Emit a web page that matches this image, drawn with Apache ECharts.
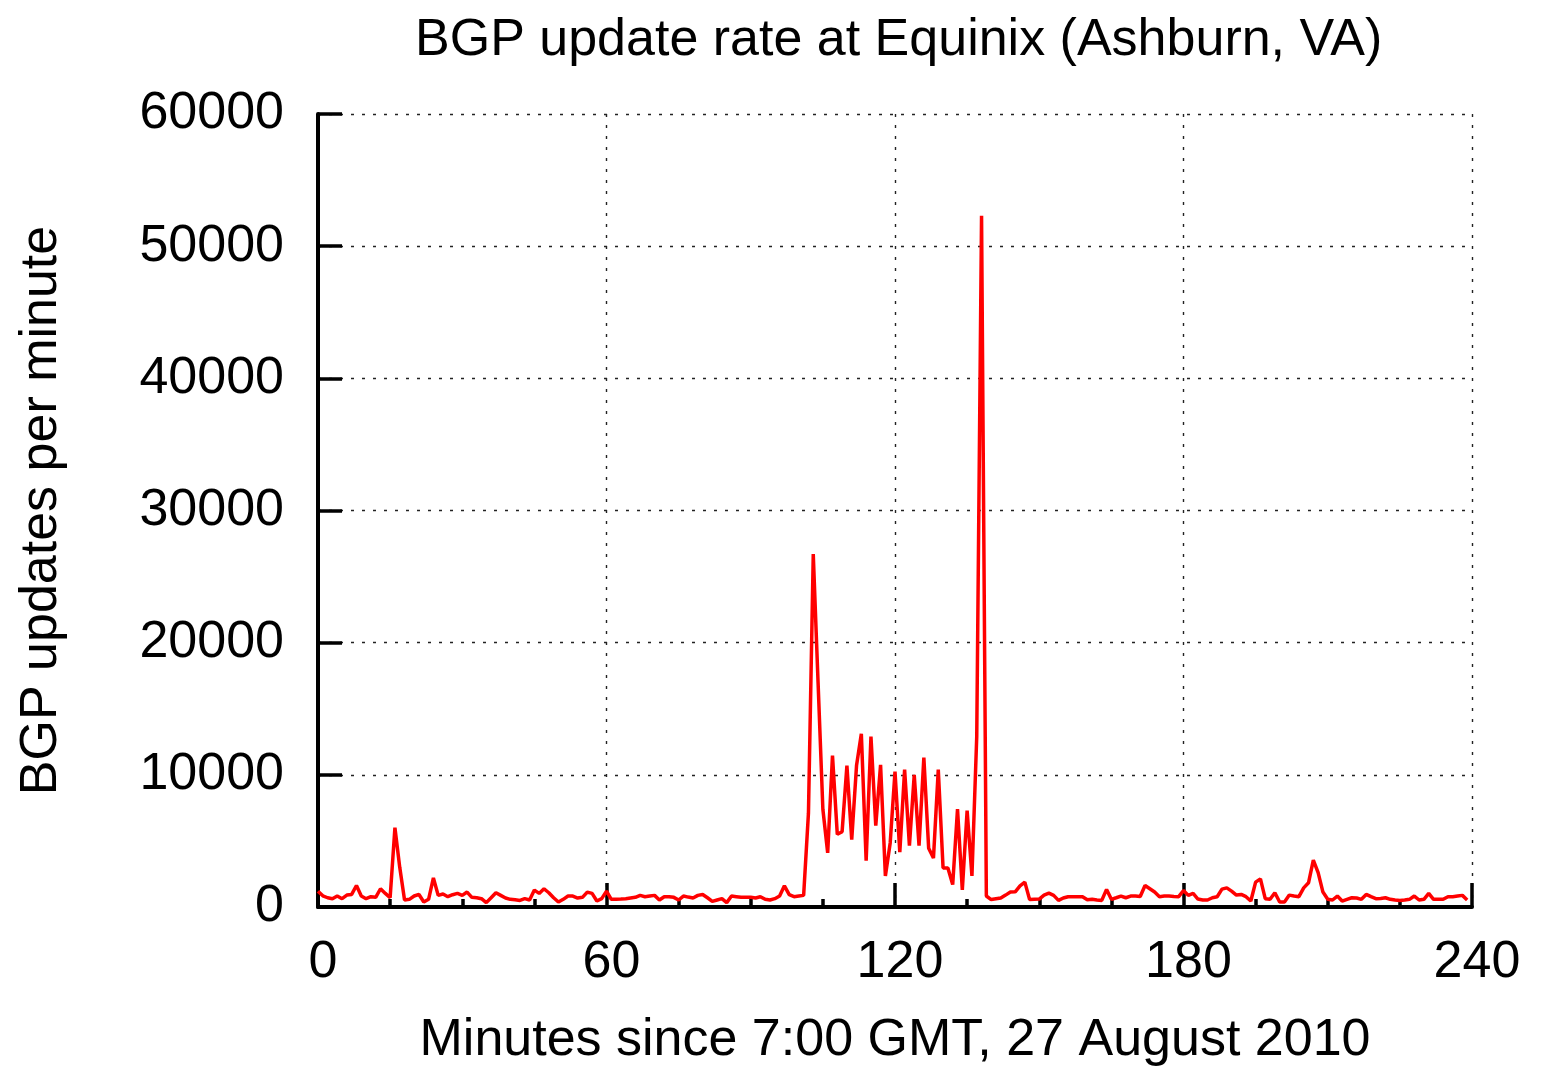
<!DOCTYPE html>
<html>
<head>
<meta charset="utf-8">
<title>BGP update rate</title>
<script src="https://cdn.jsdelivr.net/npm/echarts@6/dist/echarts.min.js"></script>
<style>
html, body { margin: 0; padding: 0; background: #fff; }
#chart { width: 1545px; height: 1072px; }
</style>
</head>
<body>
<div id="chart"></div>
<script>
// BGP updates per minute, one value per minute from 7:00 GMT
var updates = [
    1200, 850, 700, 630, 830, 630, 900, 950, 1630, 830,
    630, 780, 730, 1380, 1030, 700, 6000, 3000, 530, 580,
    830, 950, 380, 580, 2200, 880, 980, 780, 930, 1030,
    880, 1130, 730, 700, 630, 330, 700, 1080, 880, 680,
    580, 550, 500, 630, 530, 1280, 1030, 1380, 1080, 700,
    380, 580, 830, 830, 680, 730, 1130, 1030, 450, 630,
    1200, 580, 580, 600, 630, 680, 730, 880, 780, 830,
    880, 530, 780, 780, 730, 530, 830, 750, 680, 880,
    950, 700, 430, 530, 630, 330, 830, 780, 730, 730,
    730, 680, 780, 580, 530, 630, 830, 1600, 930, 780,
    830, 880, 7100, 26700, 17000, 7400, 4100, 11450, 5500, 5700,
    10700, 5100, 10700, 13100, 3500, 12900, 6150, 10750, 2350, 4850,
    10250, 4150, 10400, 4650, 10000, 4650, 11300, 4450, 3700, 10400,
    2950, 2950, 1700, 7400, 1300, 7300, 2350, 12900, 52300, 830,
    560, 620, 680, 900, 1130, 1150, 1600, 1880, 560, 580,
    600, 900, 1050, 880, 500, 680, 780, 780, 780, 780,
    550, 580, 530, 500, 1330, 580, 700, 830, 700, 830,
    830, 800, 1630, 1380, 1130, 780, 830, 830, 800, 780,
    1250, 880, 1030, 600, 530, 530, 700, 780, 1350, 1450,
    1200, 900, 950, 780, 450, 1880, 2130, 630, 580, 1080,
    380, 380, 900, 830, 780, 1450, 1830, 3550, 2600, 1130,
    580, 530, 830, 450, 580, 700, 680, 580, 950, 780,
    630, 650, 700, 580, 530, 500, 530, 580, 830, 530,
    580, 1030, 580, 580, 580, 780, 780, 830, 880, 530
];
var startMinute = 0;
var xTicks = [0, 60, 120, 180, 240];
var yTicks = [0, 10000, 20000, 30000, 40000, 50000, 60000];

var titleText = "BGP update rate at Equinix (Ashburn, VA)";
var xName = "Minutes since 7:00 GMT, 27 August 2010";
var yName = "BGP updates per minute";

var font = "'Liberation Sans', Arial, Helvetica, sans-serif";

var seriesData = updates.map(function (v, i) {
    return [startMinute + i, v];
});

var chart = echarts.init(document.getElementById("chart"), null, { renderer: "canvas" });

var gridLine = {
    show: true,
    lineStyle: { color: "#222", width: 1.4, type: [3, 8] }
};

chart.setOption({
    animation: false,
    backgroundColor: "#fff",
    title: {
        text: titleText,
        left: 410,
        top: 10,
        textStyle: { fontFamily: font, fontSize: 52, fontWeight: "normal", color: "#000" }
    },
    grid: {
        left: 318,
        right: 73,
        top: 114,
        bottom: 161
    },
    xAxis: {
        type: "value",
        min: xTicks[0],
        max: xTicks[xTicks.length - 1],
        interval: 60,
        name: xName,
        nameLocation: "middle",
        nameGap: 108,
        nameTextStyle: { fontFamily: font, fontSize: 52, color: "#000" },
        axisLine: { show: true, onZero: false, lineStyle: { color: "#000", width: 4 } },
        axisTick: { show: true, inside: true, length: 24, lineStyle: { color: "#000", width: 3.5 } },
        minorTick: { show: true, splitNumber: 4, length: 8, lineStyle: { color: "#000", width: 3.5 } },
        axisLabel: {
            margin: 30,
            padding: [0, 0, 0, 10],
            fontFamily: font,
            fontSize: 52,
            color: "#000",
            formatter: function (v) { return String(v); }
        },
        splitLine: gridLine
    },
    yAxis: {
        type: "value",
        min: yTicks[0],
        max: yTicks[yTicks.length - 1],
        interval: 10000,
        name: yName,
        nameLocation: "middle",
        nameGap: 250,
        nameTextStyle: { fontFamily: font, fontSize: 52, color: "#000" },
        axisLine: { show: true, onZero: false, lineStyle: { color: "#000", width: 4 } },
        axisTick: { show: true, inside: true, length: 24, lineStyle: { color: "#000", width: 3.5 } },
        axisLabel: {
            margin: 34,
            fontFamily: font,
            fontSize: 52,
            color: "#000",
            formatter: function (v) { return String(v); }
        },
        splitLine: gridLine
    },
    series: [
        {
            type: "line",
            data: seriesData,
            showSymbol: false,
            symbol: "none",
            lineStyle: { color: "#ff0000", width: 3.5 },
            itemStyle: { color: "#ff0000" },
            z: 3
        }
    ]
});
</script>
</body>
</html>
